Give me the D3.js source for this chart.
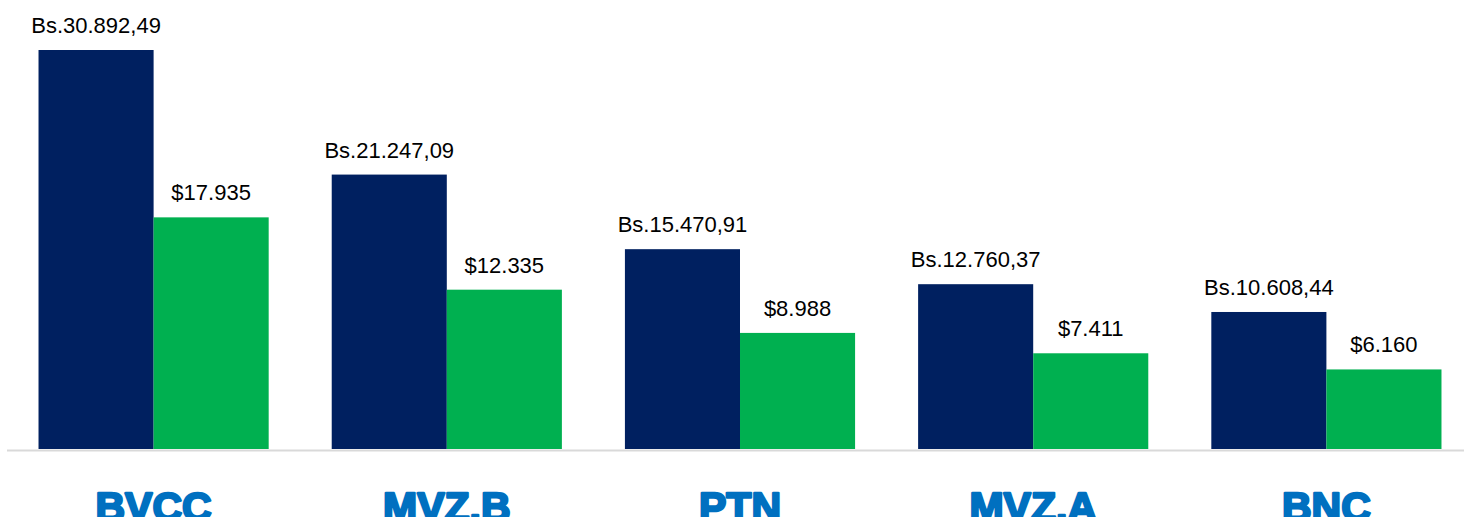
<!DOCTYPE html>
<meta charset="utf-8">
<style>
body { margin: 0; background: #fff; }
.val { font-family: "Liberation Sans", Arial, sans-serif; font-size: 22px; fill: #000; }
.cat { font-family: "Liberation Sans", Arial, sans-serif; font-weight: bold; font-size: 41px; fill: #0070C0; stroke: #0070C0; stroke-width: 2.4px; stroke-linejoin: round; }
</style>
<svg width="1467" height="517"></svg>
<script src="https://cdn.jsdelivr.net/npm/d3@7"></script>
<script>

var categories = ["BVCC", "MVZ.B", "PTN", "MVZ.A", "BNC"];
var bsValues = [30892.49, 21247.09, 15470.91, 12760.37, 10608.44];
var usdValues = [17935, 12335, 8988, 7411, 6160];
var bsLabels = ["Bs.30.892,49", "Bs.21.247,09", "Bs.15.470,91", "Bs.12.760,37", "Bs.10.608,44"];
var usdLabels = ["$17.935", "$12.335", "$8.988", "$7.411", "$6.160"];

var svg = d3.select("svg"),
    width = +svg.attr("width"),
    height = +svg.attr("height");

var baseline = 449;

var x = d3.scaleBand()
    .domain(categories)
    .range([7, 1473])
    .paddingInner(0.215)
    .paddingOuter(0.1075);

var sub = d3.scaleBand()
    .domain(["bs", "usd"])
    .range([0, x.bandwidth()]);

var y = d3.scaleLinear()
    .domain([0, 30892.49])
    .range([baseline, 50]);

var rows = categories.map(function(c, i) {
  return [
    {cat: c, key: "bs", v: bsValues[i], label: bsLabels[i], color: "#002060"},
    {cat: c, key: "usd", v: usdValues[i], label: usdLabels[i], color: "#00B050"}
  ];
});

var g = svg.append("g")
  .selectAll("g")
  .data(rows)
  .enter().append("g")
    .attr("transform", function(d) { return "translate(" + x(d[0].cat) + ",0)"; });

g.selectAll("rect")
  .data(function(d) { return d; })
  .enter().append("rect")
    .attr("x", function(d) { return sub(d.key); })
    .attr("width", sub.bandwidth())
    .attr("y", function(d) { return y(d.v); })
    .attr("height", function(d) { return baseline - y(d.v); })
    .attr("fill", function(d) { return d.color; });

g.selectAll("text")
  .data(function(d) { return d; })
  .enter().append("text")
    .attr("class", "val")
    .attr("text-anchor", "middle")
    .attr("x", function(d) { return sub(d.key) + sub.bandwidth() / 2; })
    .attr("y", function(d) { return y(d.v) - 17; })
    .text(function(d) { return d.label; });

// baseline
svg.append("line")
    .attr("x1", 7).attr("x2", 1464)
    .attr("y1", baseline + 1.5).attr("y2", baseline + 1.5)
    .attr("stroke", "#d9d9d9")
    .attr("stroke-width", 2);

svg.append("g")
  .selectAll("text")
  .data(categories)
  .enter().append("text")
    .attr("class", "cat")
    .attr("text-anchor", "middle")
    .attr("x", function(d) { return x(d) + x.bandwidth() / 2; })
    .attr("y", 521)
    .text(function(d) { return d; });

</script>
